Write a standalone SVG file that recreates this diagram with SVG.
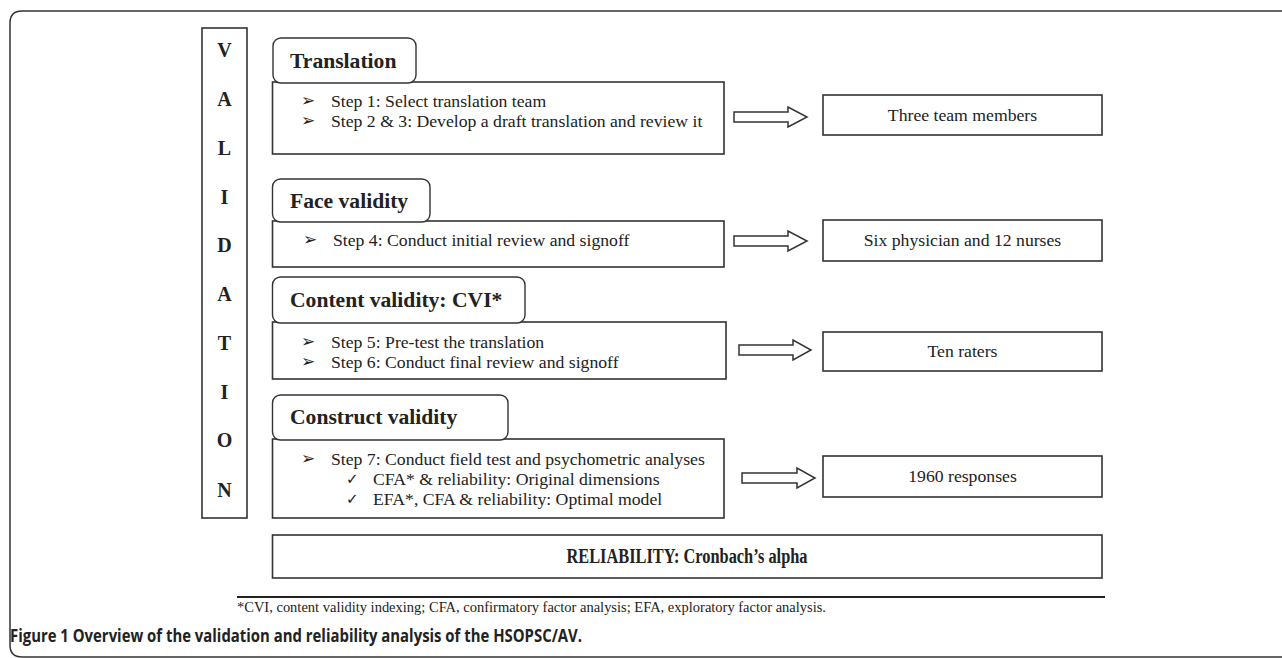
<svg xmlns="http://www.w3.org/2000/svg" width="1282" height="658" viewBox="0 0 1282 658">
<style>
.box{fill:#fff;stroke:#333;stroke-width:1.6}
.tab{fill:#fff;stroke:#333;stroke-width:1.4}
.arr{fill:#fff;stroke:#333;stroke-width:1.5;stroke-linejoin:miter}
.frame{fill:none;stroke:#333;stroke-width:1.5}
.t{font-family:"Liberation Serif","Times New Roman",serif;font-size:17.7px;fill:#222}
.h{font-family:"Liberation Serif","Times New Roman",serif;font-size:21.6px;font-weight:bold;fill:#222}
.v{font-family:"Liberation Serif","Times New Roman",serif;font-size:20px;font-weight:bold;fill:#222;text-anchor:middle}
.c{text-anchor:middle}
.b{font-family:"DejaVu Sans",sans-serif;font-size:17px;fill:#222}
.k{font-family:"DejaVu Sans",sans-serif;font-size:15px;fill:#222}
.fn{font-family:"Liberation Serif","Times New Roman",serif;font-size:14px;fill:#222}
.cap{font-family:"Open Sans","Liberation Sans",sans-serif;font-size:17px;font-weight:bold;fill:#222}
</style>
<rect width="1282" height="658" fill="#fff"/>
<path class="frame" d="M1284 11 H22 Q10 11 10 23 V645 Q10 657 22 657 H1284"/>

<g id="validation">
<rect class="box" x="202" y="28" width="45" height="490"/>
<text class="v" x="224.5" y="57">V</text>
<text class="v" x="224.5" y="106">A</text>
<text class="v" x="224.5" y="155">L</text>
<text class="v" x="224.5" y="204">I</text>
<text class="v" x="224.5" y="252">D</text>
<text class="v" x="224.5" y="301">A</text>
<text class="v" x="224.5" y="350">T</text>
<text class="v" x="224.5" y="399">I</text>
<text class="v" x="224.5" y="447">O</text>
<text class="v" x="224.5" y="497">N</text>
</g>

<g id="translation">
<rect class="box" x="272.5" y="82" width="451.5" height="72"/>
<rect class="tab" x="273" y="38" width="143" height="45" rx="8"/>
<text class="h" x="290" y="68">Translation</text>
<text class="b" x="301" y="106">➢</text>
<text class="t" x="331" y="106.5">Step 1: Select translation team</text>
<text class="b" x="301" y="126">➢</text>
<text class="t" x="331" y="126.5">Step 2 &amp; 3: Develop a draft translation and review it</text>
</g>

<g id="face">
<rect class="box" x="272.5" y="221" width="451.5" height="46"/>
<rect class="tab" x="272.5" y="179" width="157.5" height="43" rx="8"/>
<text class="h" x="290" y="208">Face validity</text>
<text class="b" x="303" y="245">➢</text>
<text class="t" x="333" y="245.5">Step 4: Conduct initial review and signoff</text>
</g>

<g id="content">
<rect class="box" x="272.5" y="322" width="453.5" height="57"/>
<rect class="tab" x="272.5" y="277" width="252.5" height="46" rx="8"/>
<text class="h" x="290" y="307">Content validity: CVI*</text>
<text class="b" x="301" y="347">➢</text>
<text class="t" x="331" y="347.5">Step 5: Pre-test the translation</text>
<text class="b" x="301" y="367">➢</text>
<text class="t" x="331" y="367.5">Step 6: Conduct final review and signoff</text>
</g>

<g id="construct">
<rect class="box" x="272.5" y="439" width="451.5" height="79"/>
<rect class="tab" x="272.5" y="395" width="235.5" height="45" rx="8"/>
<text class="h" x="290" y="424">Construct validity</text>
<text class="b" x="301" y="464">➢</text>
<text class="t" x="331" y="464.5">Step 7: Conduct field test and psychometric analyses</text>
<text class="k" x="346" y="484">✓</text>
<text class="t" x="373" y="484.5">CFA* &amp; reliability: Original dimensions</text>
<text class="k" x="346" y="504">✓</text>
<text class="t" x="373" y="504.5">EFA*, CFA &amp; reliability: Optimal model</text>
</g>

<g id="three">
<rect class="box" x="823" y="95" width="279" height="40"/>
<text class="t c" x="962.5" y="121">Three team members</text>
</g>
<g id="six">
<rect class="box" x="823" y="220" width="279" height="41"/>
<text class="t c" x="962.5" y="246">Six physician and 12 nurses</text>
</g>
<g id="ten">
<rect class="box" x="823" y="332" width="279" height="39"/>
<text class="t c" x="962.5" y="357">Ten raters</text>
</g>
<g id="responses">
<rect class="box" x="823" y="456" width="279" height="41"/>
<text class="t c" x="962.5" y="482">1960 responses</text>
</g>

<g id="reliability">
<rect class="box" x="272.5" y="535" width="829.5" height="43"/>
<text class="v" x="687" y="563" textLength="241" lengthAdjust="spacingAndGlyphs">RELIABILITY:  Cronbach’s alpha</text>
</g>

<g id="connectors">
<polygon class="arr" points="734,112 788,112 788,107 807,117 788,127 788,122 734,122"/>
<polygon class="arr" points="734,236 788,236 788,231 807,241 788,251 788,246 734,246"/>
<polygon class="arr" points="739,345 793,345 793,340 811,350 793,360 793,355 739,355"/>
<polygon class="arr" points="742,473 797,473 797,468 815,478 797,488 797,483 742,483"/>
</g>

<g id="footnote">
<line x1="237" y1="597" x2="1105" y2="597" stroke="#222" stroke-width="2"/>
<text class="fn" x="237" y="612" textLength="589" lengthAdjust="spacingAndGlyphs">*CVI, content validity indexing; CFA, confirmatory factor analysis; EFA, exploratory factor analysis.</text>
</g>
<g id="caption">
<text class="cap" x="10" y="642" textLength="572" lengthAdjust="spacingAndGlyphs">Figure 1 Overview of the validation and reliability analysis of the HSOPSC/AV.</text>
</g>
</svg>
